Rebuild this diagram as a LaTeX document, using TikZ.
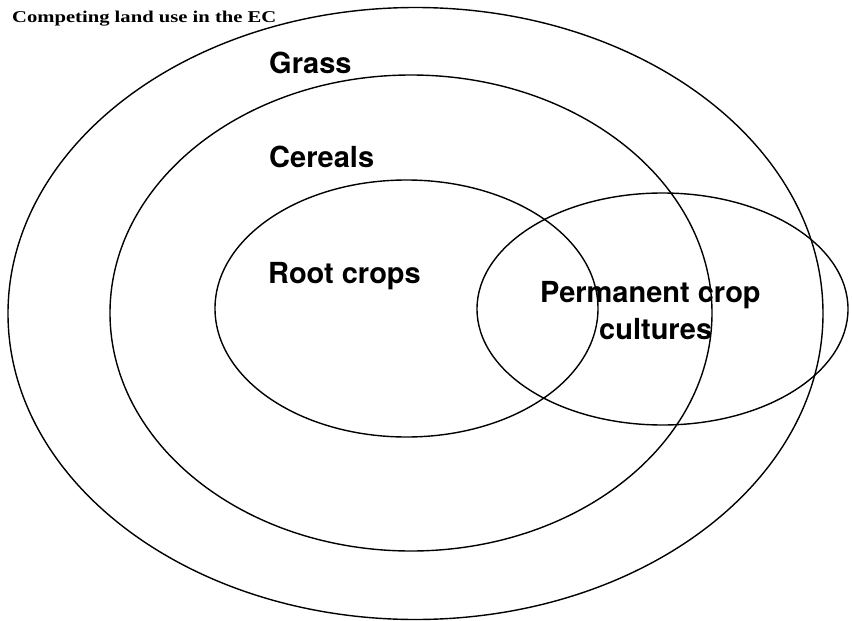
\documentclass[tikz,border=0pt]{standalone}
\usepackage{fontspec}
\setsansfont{TeX Gyre Heros}
\newfontfamily\capfont{Liberation Serif}
\begin{document}
\begin{tikzpicture}[x=1pt,y=-1pt,
  region/.style={draw=black,line width=1.4pt},
  lab/.style={font=\sffamily\bfseries\fontsize{29}{32}\selectfont,inner sep=0pt,anchor=base west}]
\useasboundingbox (0,0) rectangle (852,621);
\fill[white] (0,0) rectangle (852,621);
\draw[region] (415.5,313.5) ellipse [x radius=407.5, y radius=306];
\draw[region] (411,313) ellipse [x radius=301, y radius=238];
\draw[region] (406.5,308.5) ellipse [x radius=191.5, y radius=128.5];
\draw[region] (662.5,309) ellipse [x radius=185.5, y radius=116];
\node[inner sep=0pt,anchor=base west] (title) at (12,22)
  {\scalebox{1.25}[1]{\capfont\bfseries\fontsize{16.5}{18}\selectfont Competing land use in the EC}};
\node[lab] (grass) at (269,73) {Grass};
\node[lab] (cereals) at (269,167) {Cereals};
\node[lab] (root) at (268,283) {Root crops};
\node[lab] (perm1) at (540,302) {Permanent crop};
\node[lab] (perm2) at (599,339) {cultures};
\end{tikzpicture}
\end{document}
